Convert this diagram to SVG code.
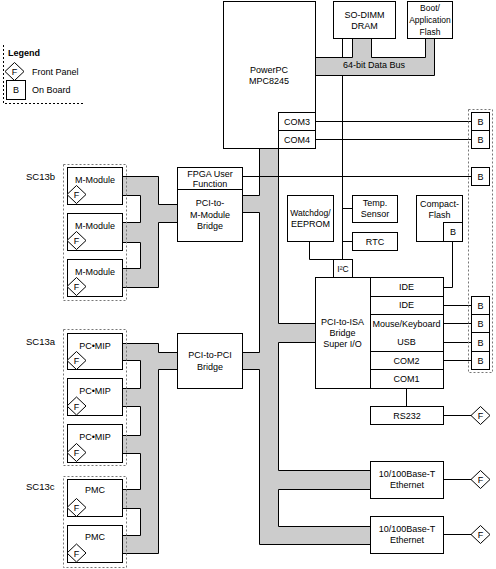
<svg xmlns="http://www.w3.org/2000/svg" width="496" height="569" viewBox="0 0 496 569">
<style>
text{font-family:"Liberation Sans",Arial,sans-serif;font-size:9px;fill:#000;text-anchor:middle}
.l{text-anchor:start}
.box{fill:#fff;stroke:#000;stroke-width:1}
.bus{fill:#cccccc;stroke:none}
.edge{fill:none;stroke:#000;stroke-width:1}
.dot{fill:none;stroke:#777;stroke-width:1;stroke-dasharray:2,2}
.dia{fill:#fff;stroke:#000;stroke-width:1}
</style>
<defs>
<g id="fp"><polygon class="dia" points="0,-9 9.5,0 0,9 -9.5,0"/><text x="0" y="3.5">F</text></g>
</defs>
<rect width="496" height="569" fill="#fff"/>

<g id="legend">
<path d="M3.5,45 V103.5 H85" fill="none" stroke="#000" stroke-dasharray="2,2"/>
<text class="l" x="8" y="56" style="font-weight:bold">Legend</text>
<use href="#fp" x="14.5" y="71.5"/>
<text class="l" x="32" y="75">Front Panel</text>
<rect class="box" x="6.5" y="80.5" width="19" height="19"/>
<text x="16" y="93">B</text>
<text class="l" x="32" y="93">On Board</text>
</g>

<g id="connectors">
<path class="edge" d="M342.5,38.5 V259.5 M342.5,208.5 H352.5 M342.5,241.5 H352.5"/>
<path class="edge" d="M309.5,241.5 V259.5 H333.5"/>
<path class="edge" d="M452.5,241.5 V287.5 H443.5"/>
<path class="edge" d="M315.5,121.5 H471.5 M315.5,139.5 H471.5 M242.5,176.5 H471.5"/>
<path class="edge" d="M443.5,305.5 H471.5 M443.5,323.5 H471.5 M443.5,342.5 H471.5 M443.5,360.5 H471.5"/>
<path class="edge" d="M406.5,388.5 V406.5 M443.5,415.5 H471.5 M443.5,479.5 H471.5 M443.5,534.5 H471.5"/>
<!-- data bus -->
<polygon class="bus" points="315.5,57.5 352.5,57.5 352.5,38.5 371.5,38.5 371.5,57.5 425.5,57.5 425.5,38.5 434.5,38.5 434.5,75.5 315.5,75.5"/>
<path class="edge" d="M315.5,57.5 H352.5 V38.5 M371.5,38.5 V57.5 H425.5 V38.5 M434.5,38.5 V75.5 H315.5"/>
<text x="374" y="68">64-bit Data Bus</text>
<!-- main PCI bus -->
<polygon class="bus" points="259.5,148.5 259.5,195.5 242.5,195.5 242.5,212.5 259.5,212.5 259.5,352.5 242.5,352.5 242.5,369.5 259.5,369.5 259.5,544.5 370.5,544.5 370.5,526.5 278.5,526.5 278.5,489.5 370.5,489.5 370.5,470.5 278.5,470.5 278.5,342.5 315.5,342.5 315.5,323.5 278.5,323.5 278.5,148.5"/>
<path class="edge" d="M259.5,148.5 V195.5 H242.5 M242.5,212.5 H259.5 V352.5 H242.5 M242.5,369.5 H259.5 V544.5 H370.5 M370.5,526.5 H278.5 V489.5 H370.5 M370.5,470.5 H278.5 V342.5 H315.5 M315.5,323.5 H278.5 V148.5"/>
<path class="edge" d="M259.5,176.5 H278.5"/>
<!-- M-Module bus -->
<polygon class="bus" points="122.5,176.5 158.5,176.5 158.5,204.5 177.5,204.5 177.5,222.5 158.5,222.5 158.5,287.5 122.5,287.5 122.5,268.5 140.5,268.5 140.5,242.5 122.5,242.5 122.5,222.5 140.5,222.5 140.5,195.5 122.5,195.5"/>
<path class="edge" d="M122.5,176.5 H158.5 V204.5 H177.5 M177.5,222.5 H158.5 V287.5 H122.5 M122.5,268.5 H140.5 V242.5 H122.5 M122.5,222.5 H140.5 V195.5 H122.5"/>
<!-- PC-MIP / PMC bus -->
<polygon class="bus" points="122.5,343.5 158.5,343.5 158.5,352.5 177.5,352.5 177.5,369.5 158.5,369.5 158.5,553.5 122.5,553.5 122.5,535.5 140.5,535.5 140.5,508.5 122.5,508.5 122.5,489.5 140.5,489.5 140.5,453.5 122.5,453.5 122.5,435.5 140.5,435.5 140.5,406.5 122.5,406.5 122.5,388.5 140.5,388.5 140.5,360.5 122.5,360.5"/>
<path class="edge" d="M122.5,343.5 H158.5 V352.5 H177.5 M177.5,369.5 H158.5 V553.5 H122.5 M122.5,535.5 H140.5 V508.5 H122.5 M122.5,489.5 H140.5 V453.5 H122.5 M122.5,435.5 H140.5 V406.5 H122.5 M122.5,388.5 H140.5 V360.5 H122.5"/>
</g>

<g id="powerpc">
<rect class="box" x="223.5" y="1.5" width="92" height="147"/>
<text x="269" y="73">PowerPC</text>
<text x="269" y="84">MPC8245</text>
</g>
<g id="com3"><rect class="box" x="278.5" y="112.5" width="37" height="18"/><text x="297" y="124.5">COM3</text></g>
<g id="com4"><rect class="box" x="278.5" y="130.5" width="37" height="18"/><text x="297" y="142.5">COM4</text></g>
<g id="sodimm">
<rect class="box" x="333.5" y="1.5" width="62" height="37"/>
<text x="364.5" y="18">SO-DIMM</text>
<text x="364.5" y="29">DRAM</text>
</g>
<g id="flash">
<rect class="box" x="407.5" y="1.5" width="45" height="37"/>
<text x="430" y="11" style="font-size:8.5px">Boot/</text>
<text x="430" y="23" style="font-size:8.5px">Application</text>
<text x="430" y="35" style="font-size:8.5px">Flash</text>
</g>

<g id="b-com3"><rect class="box" x="471.5" y="112.5" width="18" height="18"/><text x="480.5" y="124.5">B</text></g>
<g id="b-com4"><rect class="box" x="471.5" y="130.5" width="18" height="18"/><text x="480.5" y="142.5">B</text></g>
<g id="b-fpga"><rect class="box" x="471.5" y="167.5" width="18" height="18"/><text x="480.5" y="179.5">B</text></g>
<g id="b-ide"><rect class="box" x="471.5" y="296.5" width="18" height="18"/><text x="480.5" y="308.5">B</text></g>
<g id="b-mouse"><rect class="box" x="471.5" y="314.5" width="18" height="18"/><text x="480.5" y="326.5">B</text></g>
<g id="b-usb"><rect class="box" x="471.5" y="332.5" width="18" height="19"/><text x="480.5" y="345.5">B</text></g>
<g id="b-com2"><rect class="box" x="471.5" y="351.5" width="18" height="18"/><text x="480.5" y="363.5">B</text></g>
<rect class="dot" x="468.5" y="109.5" width="24" height="263"/>

<g id="fpga">
<rect class="box" x="177.5" y="167.5" width="65" height="22"/>
<text x="210" y="176.5">FPGA User</text>
<text x="210" y="187">Function</text>
</g>
<g id="m-bridge">
<rect class="box" x="177.5" y="189.5" width="65" height="52"/>
<text x="210" y="206">PCI-to-</text>
<text x="210" y="218">M-Module</text>
<text x="210" y="229">Bridge</text>
</g>
<g id="pci-bridge">
<rect class="box" x="177.5" y="333.5" width="65" height="55"/>
<text x="210" y="358">PCI-to-PCI</text>
<text x="210" y="369.5">Bridge</text>
</g>

<g id="sc13b">
<text class="l" x="26" y="180" style="font-size:9.5px">SC13b</text>
<g id="mmod1"><rect class="box" x="67.5" y="167.5" width="55" height="37"/><text x="95" y="183">M-Module</text><use href="#fp" x="76.5" y="194.5"/></g>
<g id="mmod2"><rect class="box" x="67.5" y="213.5" width="55" height="37"/><text x="95" y="229">M-Module</text><use href="#fp" x="76.5" y="240.5"/></g>
<g id="mmod3"><rect class="box" x="67.5" y="259.5" width="55" height="37"/><text x="95" y="275">M-Module</text><use href="#fp" x="76.5" y="286.5"/></g>
<rect class="dot" x="63.5" y="164.5" width="63" height="136"/>
</g>

<g id="sc13a">
<text class="l" x="26" y="345" style="font-size:9.5px">SC13a</text>
<g id="pcmip1"><rect class="box" x="67.5" y="333.5" width="55" height="36"/><text x="95" y="349">PC•MIP</text><use href="#fp" x="76.5" y="360.5"/></g>
<g id="pcmip2"><rect class="box" x="67.5" y="378.5" width="55" height="37"/><text x="95" y="394">PC•MIP</text><use href="#fp" x="76.5" y="406"/></g>
<g id="pcmip3"><rect class="box" x="67.5" y="424.5" width="55" height="38"/><text x="95" y="440">PC•MIP</text><use href="#fp" x="76.5" y="452.5"/></g>
<rect class="dot" x="63.5" y="329.5" width="63" height="136"/>
</g>

<g id="sc13c">
<text class="l" x="26" y="490" style="font-size:9.5px">SC13c</text>
<g id="pmc1"><rect class="box" x="67.5" y="479.5" width="55" height="37"/><text x="95" y="493">PMC</text><use href="#fp" x="76.5" y="507.5"/></g>
<g id="pmc2"><rect class="box" x="67.5" y="525.5" width="55" height="37"/><text x="95" y="540">PMC</text><use href="#fp" x="76.5" y="553"/></g>
<rect class="dot" x="63.5" y="476.5" width="63" height="91"/>
</g>

<g id="watchdog">
<rect class="box" x="287.5" y="195.5" width="46" height="46"/>
<text x="310.5" y="216" style="font-size:8.5px">Watchdog/</text>
<text x="310.5" y="226.5">EEPROM</text>
</g>
<g id="temp">
<rect class="box" x="352.5" y="195.5" width="45" height="27"/>
<text x="375" y="206">Temp.</text>
<text x="375" y="217">Sensor</text>
</g>
<g id="rtc"><rect class="box" x="352.5" y="232.5" width="45" height="18"/><text x="375" y="244.5">RTC</text></g>
<g id="i2c"><rect class="box" x="333.5" y="259.5" width="19" height="18"/><text x="343" y="271.5" style="font-size:8.5px">I²C</text></g>
<g id="cflash">
<rect class="box" x="416.5" y="195.5" width="46" height="46"/>
<text x="439.5" y="207">Compact-</text>
<text x="439.5" y="218">Flash</text>
<rect class="box" x="443.5" y="222.5" width="19" height="19"/>
<text x="453" y="235">B</text>
</g>

<g id="isa">
<rect class="box" x="315.5" y="277.5" width="128" height="111"/>
<path class="edge" d="M370.5,277.5 V388.5 M370.5,296.5 H443.5 M370.5,314.5 H443.5 M370.5,351.5 H443.5 M370.5,369.5 H443.5"/>
<text x="342.5" y="325">PCI-to-ISA</text>
<text x="342.5" y="336">Bridge</text>
<text x="342.5" y="346.5">Super I/O</text>
<text x="406.5" y="289.5">IDE</text>
<text x="406.5" y="308">IDE</text>
<text x="406.5" y="326.5">Mouse/Keyboard</text>
<text x="406.5" y="345">USB</text>
<text x="406.5" y="363.5">COM2</text>
<text x="406.5" y="381.5">COM1</text>
</g>

<g id="rs232"><rect class="box" x="370.5" y="406.5" width="73" height="18"/><text x="407" y="418.5">RS232</text><use href="#fp" x="480.5" y="415.5"/></g>
<g id="eth1">
<rect class="box" x="370.5" y="461.5" width="73" height="37"/>
<text x="407" y="477">10/100Base-T</text>
<text x="407" y="488">Ethernet</text>
<use href="#fp" x="480.5" y="479.5"/>
</g>
<g id="eth2">
<rect class="box" x="370.5" y="516.5" width="73" height="37"/>
<text x="407" y="532">10/100Base-T</text>
<text x="407" y="543">Ethernet</text>
<use href="#fp" x="480.5" y="534.5"/>
</g>
</svg>
